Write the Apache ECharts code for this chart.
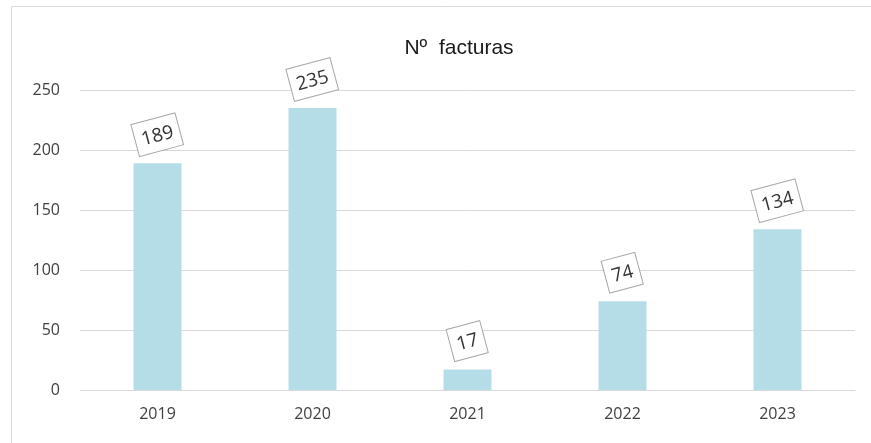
<!DOCTYPE html>
<html><head><meta charset="utf-8">
<script src="https://cdn.jsdelivr.net/npm/echarts@6/dist/echarts.min.js"></script>
<style>html,body{margin:0;padding:0;background:#fff}#c{width:871px;height:443px}</style>
</head><body><div id="c"></div>
<script>
const categories = ['2019','2020','2021','2022','2023'];
const values = [189, 235, 17, 74, 134];
const yTicks = [0, 50, 100, 150, 200, 250];
const titleText = 'Nº  facturas';

const chart = echarts.init(document.getElementById('c'), null, {renderer:'canvas'});
chart.setOption({
  animation: false,
  backgroundColor: '#fff',
  title: { text: titleText, left: 454, top: 33, textAlign: 'center',
    textStyle: { fontFamily: 'Liberation Sans', fontSize: 21, fontWeight: 'normal', color: '#1a1a1a' } },
  graphic: [{ type: 'rect', shape: { x: 11.5, y: 6.5, width: 900, height: 500 },
    style: { fill: 'none', stroke: '#d9d9d9', lineWidth: 1 }, silent: true }],
  grid: { left: 80, right: 16, top: 90, bottom: 53 },
  xAxis: { type: 'category', data: categories,
    axisLine: { show: true, lineStyle: { color: '#d9d9d9' } }, axisTick: { show: false },
    axisLabel: { color: '#404040', fontFamily: 'Open Sans', fontSize: 16, margin: 16 } },
  yAxis: { type: 'value', min: yTicks[0], max: yTicks[yTicks.length-1], interval: 50,
    axisLine: { show: false }, axisTick: { show: false },
    splitLine: { lineStyle: { color: '#d9d9d9' } },
    axisLabel: { color: '#404040', fontFamily: 'Open Sans', fontSize: 16, margin: 20 } },
  series: [{ type: 'bar', data: values, barWidth: 48,
    itemStyle: { color: '#b5dde7' },
    label: { show: true, position: 'top', distance: 12, rotate: 15, offset: [4, 0],
      color: '#333', fontFamily: 'Open Sans', fontSize: 19,
      backgroundColor: '#fff', borderColor: '#a6a6a6', borderWidth: 1,
      padding: [8, 6, 5, 6] } }]
});
</script></body></html>
